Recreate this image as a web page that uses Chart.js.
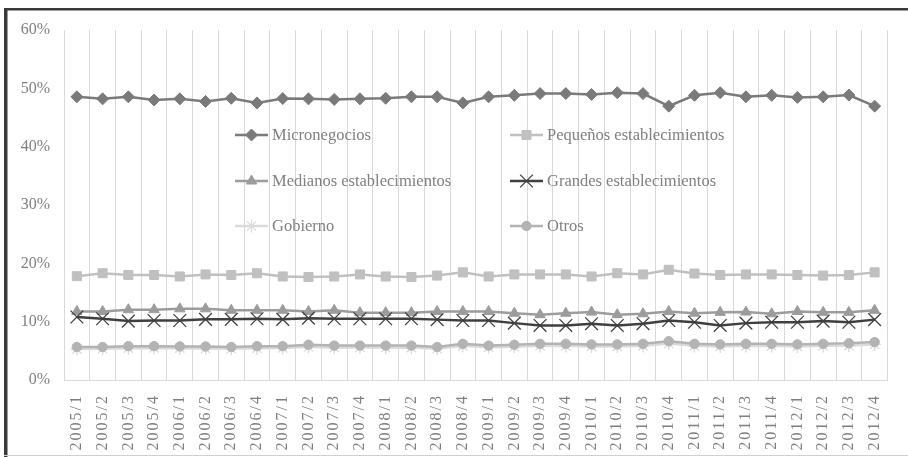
<!DOCTYPE html>
<html>
<head>
<meta charset="utf-8">
<script src="https://cdn.jsdelivr.net/npm/chart.js@4/dist/chart.umd.min.js"></script>
<style>
  html, body { margin: 0; padding: 0; background: #fff; }
  #wrap { position: relative; width: 908px; height: 457px; }
</style>
</head>
<body>
<div id="wrap"><canvas id="grafica"></canvas></div>
<script>
// Periodos trimestrales
const trimestres = ['2005/1', '2005/2', '2005/3', '2005/4', '2006/1', '2006/2', '2006/3', '2006/4',
    '2007/1', '2007/2', '2007/3', '2007/4', '2008/1', '2008/2', '2008/3', '2008/4',
    '2009/1', '2009/2', '2009/3', '2009/4', '2010/1', '2010/2', '2010/3', '2010/4',
    '2011/1', '2011/2', '2011/3', '2011/4', '2012/1', '2012/2', '2012/3', '2012/4'];

// Participación (%) por tipo de establecimiento
const micronegocios = [48.55, 48.2, 48.55, 48.0, 48.2, 47.75, 48.3, 47.5, 48.25, 48.2, 48.1, 48.2, 48.3, 48.55, 48.55, 47.5,
    48.55, 48.8, 49.1, 49.1, 48.95, 49.25, 49.1, 46.95, 48.8, 49.25, 48.55, 48.8, 48.45, 48.55, 48.85, 46.95];
const pequenos = [17.8, 18.3, 18.0, 18.0, 17.75, 18.1, 18.0, 18.3, 17.75, 17.65, 17.75, 18.1, 17.75, 17.65, 17.9, 18.45,
    17.75, 18.1, 18.1, 18.1, 17.75, 18.3, 18.1, 18.9, 18.25, 18.0, 18.1, 18.1, 18.0, 17.9, 18.0, 18.45];
const medianos = [11.75, 11.75, 12.05, 12.05, 12.2, 12.2, 11.95, 11.95, 11.95, 11.75, 11.95, 11.55, 11.55, 11.55, 11.75, 11.75,
    11.75, 11.45, 11.2, 11.45, 11.65, 11.2, 11.35, 11.75, 11.45, 11.6, 11.65, 11.35, 11.75, 11.6, 11.6, 11.95];
const grandes = [10.8, 10.5, 10.1, 10.2, 10.2, 10.4, 10.4, 10.5, 10.4, 10.6, 10.5, 10.5, 10.5, 10.5, 10.35, 10.2,
    10.2, 9.75, 9.35, 9.35, 9.65, 9.35, 9.65, 10.2, 9.9, 9.35, 9.75, 9.9, 9.9, 10.1, 9.9, 10.35];
const gobierno = [5.3, 5.35, 5.45, 5.5, 5.45, 5.4, 5.35, 5.45, 5.5, 5.7, 5.55, 5.6, 5.55, 5.55, 5.35, 5.85,
    5.6, 5.7, 5.85, 5.85, 5.75, 5.75, 5.85, 6.25, 5.85, 5.75, 5.85, 5.85, 5.75, 5.85, 5.9, 6.1];
const otros = [5.65, 5.65, 5.8, 5.8, 5.75, 5.75, 5.65, 5.8, 5.8, 6.05, 5.9, 5.9, 5.9, 5.9, 5.65, 6.2,
    5.9, 6.05, 6.2, 6.2, 6.1, 6.1, 6.2, 6.65, 6.2, 6.1, 6.2, 6.2, 6.1, 6.2, 6.3, 6.5];
const marcasEje = [0, 10, 20, 30, 40, 50, 60];

const fuente = 'Liberation Serif, Times New Roman, serif';
const gris = '#7f7f7f';

// Serie: nombre, datos, color, marcador, radio
function serie(label, data, color, pointStyle, radio, orden) {
    const fina = pointStyle === 'crossRot' || pointStyle === 'star';
    return {
        label, data, order: orden,
        borderColor: color, backgroundColor: color,
        pointBackgroundColor: color, pointBorderColor: color,
        borderWidth: 2.5, pointStyle, pointRadius: radio, pointHoverRadius: radio,
        pointBorderWidth: fina ? 1.3 : 1,
        tension: 0
    };
}

// Marco exterior del gráfico
const marco = {
    id: 'marco',
    afterDraw(chart) {
        const c = chart.ctx;
        c.save();
        c.fillStyle = '#3a3a3a';
        c.fillRect(4, 8, 904, 2.5);
        c.fillRect(4, 8, 3.5, 449);
        c.fillStyle = '#d0d0d0';
        c.fillRect(4, 455, 904, 1);
        c.restore();
    }
};

// Espaciado de letras en las etiquetas del eje X
const espaciado = {
    id: 'espaciado',
    beforeDraw(chart) {
        const s = chart.scales.x;
        if (s._espaciado) return;
        const orig = s.drawLabels;
        s.drawLabels = function (area) {
            this.ctx.save();
            this.ctx.letterSpacing = '2px';
            orig.call(this, area);
            this.ctx.restore();
        };
        s._espaciado = true;
    }
};

// Leyenda dentro del área de trazado, en dos columnas
const leyenda = {
    id: 'leyendaInterna',
    afterDraw(chart) {
        const c = chart.ctx;
        const cols = [235, 510];
        const filas = [135, 181, 226];
        chart.data.datasets.forEach((ds, i) => {
            const x = cols[i % 2], y = filas[Math.floor(i / 2)];
            c.save();
            c.strokeStyle = ds.borderColor;
            c.lineWidth = 2.5;
            c.beginPath();
            c.moveTo(x, y);
            c.lineTo(x + 33, y);
            c.stroke();
            c.fillStyle = ds.backgroundColor;
            c.lineWidth = ds.pointBorderWidth;
            Chart.helpers.drawPoint(c, { pointStyle: ds.pointStyle, radius: ds.pointRadius, borderWidth: ds.pointBorderWidth, rotation: 0 }, x + 16.5, y);
            c.fillStyle = gris;
            c.font = '16.5px ' + fuente;
            c.textBaseline = 'middle';
            c.textAlign = 'left';
            c.fillText(ds.label, x + 37, y + 1);
            c.restore();
        });
    }
};

const ctx = document.getElementById('grafica').getContext('2d');
new Chart(ctx, {
    type: 'line',
    data: {
        labels: trimestres,
        datasets: [
            serie('Micronegocios', micronegocios, '#7a7a7a', 'rectRot', 6, 5),
            serie('Pequeños establecimientos', pequenos, '#c0c0c0', 'rect', 6.4, 4),
            serie('Medianos establecimientos', medianos, '#9c9c9c', 'triangle', 6, 3),
            serie('Grandes establecimientos', grandes, '#3f3f3f', 'crossRot', 9, 2),
            serie('Gobierno', gobierno, '#dadada', 'star', 6.5, 1),
            serie('Otros', otros, '#b3b3b3', 'circle', 4.7, 0)
        ]
    },
    options: {
        responsive: true,
        maintainAspectRatio: false,
        animation: false,
        layout: { padding: { top: 30, right: 12, bottom: 2, left: 0 } },
        plugins: {
            legend: { display: false },
            tooltip: { enabled: false }
        },
        scales: {
            x: {
                offset: true,
                grid: { offset: true, color: '#d9d9d9', lineWidth: 1, drawTicks: false },
                border: { color: '#d9d9d9', width: 1 },
                ticks: {
                    color: gris, font: { family: fuente, size: 16 },
                    minRotation: 90, maxRotation: 90, autoSkip: false, padding: 14
                },
                afterFit: s => { s.height = 75; }
            },
            y: {
                min: 0, max: 60,
                afterBuildTicks: s => { s.ticks = marcasEje.map(v => ({ value: v })); },
                grid: { display: false, drawTicks: false },
                border: { display: false },
                ticks: {
                    color: gris, font: { family: fuente, size: 16 }, padding: 14,
                    callback: v => v + '%'
                },
                afterFit: s => { s.width = 64; }
            }
        }
    },
    plugins: [espaciado, leyenda, marco]
});
</script>
</body>
</html>
